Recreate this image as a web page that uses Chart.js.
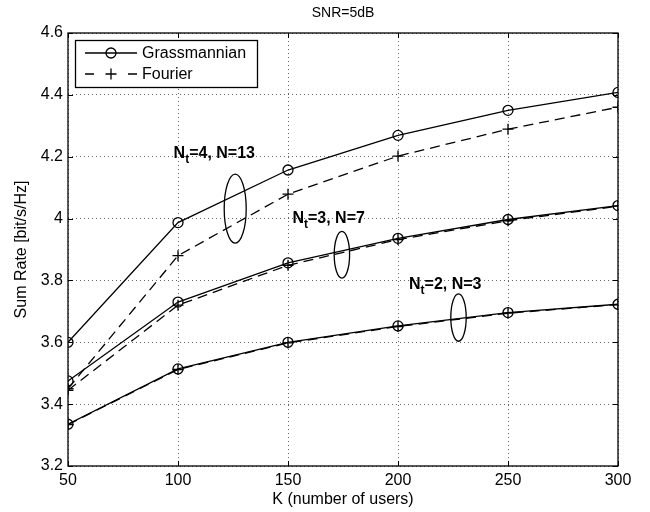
<!DOCTYPE html>
<html>
<head>
<meta charset="utf-8">
<title>SNR=5dB</title>
<script src="https://cdn.jsdelivr.net/npm/chart.js@4"></script>
<style>
  body { margin: 0; background: #fff; }
  canvas { display: block; }
</style>
</head>
<body>
<canvas id="chart" width="650" height="512"></canvas>
<script>
// number of users on the x axis
const kUsers = [50, 100, 150, 200, 250, 300];

// sum rate, one array per curve
const grass4   = [3.600, 3.987, 4.157, 4.269, 4.350, 4.408];
const fourier4 = [3.450, 3.880, 4.079, 4.202, 4.289, 4.360];
const grass3   = [3.475, 3.730, 3.857, 3.936, 3.997, 4.042];
const fourier3 = [3.445, 3.720, 3.849, 3.932, 3.993, 4.040];
const grass2   = [3.335, 3.514, 3.600, 3.653, 3.696, 3.723];
const fourier2 = [3.334, 3.512, 3.598, 3.651, 3.694, 3.722];

// tick values
const xTicks = [50, 100, 150, 200, 250, 300];
const yTicks = [3.2, 3.4, 3.6, 3.8, 4.0, 4.2, 4.4, 4.6];

// group labels (N_t, N)
const groupNt = ['4', '3', '2'];
const groupN = ['13', '7', '3'];

// where the group labels and ellipses go, in data units
const labelAt   = [[98, 4.21], [152, 4.0], [205, 3.785]];
const ellipseAt = [[126, 4.032], [174.5, 3.883], [227.5, 3.68]];
const ellipseR  = [[11, 34.5], [7.7, 23.3], [7.7, 23.7]]; // px

const titleText = 'SNR=5dB';

const FONT = "'Liberation Sans', Arial, Helvetica, sans-serif";
Chart.defaults.font.family = FONT;
Chart.defaults.color = '#000';

function toPts(ys) {
  return ys.map((y, i) => ({x: kUsers[i], y: y}));
}

function grassSet(ys) {
  return {
    label: 'Grassmannian', data: toPts(ys),
    borderColor: '#000', borderWidth: 1.3,
    pointStyle: 'circle', pointRadius: 5, pointBorderWidth: 1.3,
    pointBackgroundColor: 'rgba(0,0,0,0)', pointBorderColor: '#000',
    fill: false, tension: 0
  };
}
function fourierSet(ys) {
  return {
    label: 'Fourier', data: toPts(ys),
    borderColor: '#000', borderWidth: 1.3, borderDash: [10, 6],
    pointStyle: 'cross', pointRadius: 5.5, pointBorderWidth: 1.3,
    pointBackgroundColor: 'rgba(0,0,0,0)', pointBorderColor: '#000',
    fill: false, tension: 0
  };
}

// title, box, inner ticks, legend, ellipses and group labels
const extras = {
  id: 'extras',
  afterDraw(chart) {
    const ctx = chart.ctx;
    const a = chart.chartArea;
    const xs = chart.scales.x, ys = chart.scales.y;
    ctx.save();

    // title centred over the axes
    ctx.fillStyle = '#000';
    ctx.font = '14px ' + FONT;
    ctx.textAlign = 'center';
    ctx.textBaseline = 'middle';
    ctx.fillText(titleText, (a.left + a.right) / 2, 13);

    ctx.strokeStyle = '#000';
    ctx.lineWidth = 1.3;
    ctx.setLineDash([]);
    ctx.strokeRect(a.left, a.top, a.right - a.left, a.bottom - a.top);

    // tick marks pointing inward
    ctx.lineWidth = 1;
    ctx.beginPath();
    for (const t of xTicks) {
      const px = Math.round(xs.getPixelForValue(t)) + 0.5;
      ctx.moveTo(px, a.bottom); ctx.lineTo(px, a.bottom - 5);
      ctx.moveTo(px, a.top); ctx.lineTo(px, a.top + 5);
    }
    for (const t of yTicks) {
      const py = Math.round(ys.getPixelForValue(t)) + 0.5;
      ctx.moveTo(a.left, py); ctx.lineTo(a.left + 5, py);
      ctx.moveTo(a.right, py); ctx.lineTo(a.right - 5, py);
    }
    ctx.stroke();

    // ellipses
    ctx.lineWidth = 1.3;
    ellipseAt.forEach((c, i) => {
      ctx.beginPath();
      ctx.ellipse(xs.getPixelForValue(c[0]), ys.getPixelForValue(c[1]),
        ellipseR[i][0], ellipseR[i][1], 0, 0, Math.PI * 2);
      ctx.stroke();
    });

    // group labels with subscript t
    ctx.textAlign = 'left';
    labelAt.forEach((p, i) => {
      let x = xs.getPixelForValue(p[0]);
      const y = ys.getPixelForValue(p[1]);
      ctx.font = 'bold 16px ' + FONT;
      ctx.fillText('N', x, y);
      x += ctx.measureText('N').width;
      ctx.font = 'bold 12px ' + FONT;
      ctx.fillText('t', x, y + 6);
      x += ctx.measureText('t').width;
      ctx.font = 'bold 16px ' + FONT;
      ctx.fillText('=' + groupNt[i] + ', N=' + groupN[i], x, y);
    });

    // legend box
    const lx = 75, ly = 40, lw = 182, lh = 47;
    ctx.fillStyle = '#fff';
    ctx.fillRect(lx, ly, lw, lh);
    ctx.strokeStyle = '#000';
    ctx.lineWidth = 1.3;
    ctx.strokeRect(lx + 0.5, ly + 0.5, lw, lh);

    const r1 = 53, r2 = 74;
    ctx.beginPath();
    ctx.moveTo(85, r1); ctx.lineTo(137, r1);
    ctx.stroke();
    ctx.beginPath();
    ctx.arc(111, r1, 5, 0, Math.PI * 2);
    ctx.stroke();

    ctx.beginPath();
    ctx.moveTo(85, r2); ctx.lineTo(94, r2);
    ctx.moveTo(128, r2); ctx.lineTo(137, r2);
    ctx.moveTo(105.5, r2); ctx.lineTo(116.5, r2);
    ctx.moveTo(111, r2 - 5.5); ctx.lineTo(111, r2 + 5.5);
    ctx.stroke();

    ctx.fillStyle = '#000';
    ctx.font = '16px ' + FONT;
    ctx.textBaseline = 'middle';
    ctx.fillText('Grassmannian', 142, r1 + 1);
    ctx.fillText('Fourier', 142, r2 + 1);
    ctx.restore();
  }
};

new Chart(document.getElementById('chart'), {
  type: 'line',
  data: {
    datasets: [
      grassSet(grass4), fourierSet(fourier4),
      grassSet(grass3), fourierSet(fourier3),
      grassSet(grass2), fourierSet(fourier2)
    ]
  },
  options: {
    responsive: false,
    animation: false,
    devicePixelRatio: 1,
    layout: { padding: { left: 0, right: 32, top: 33, bottom: 0 } },
    plugins: {
      legend: { display: false },
      tooltip: { enabled: false },
      title: { display: false }
    },
    scales: {
      x: {
        type: 'linear',
        min: 50, max: 300,
        afterBuildTicks: s => { s.ticks = xTicks.map(v => ({value: v})); },
        afterFit: s => { s.height = 46; },
        ticks: { font: { size: 16 }, padding: 5, color: '#000', maxRotation: 0 },
        grid: { color: 'rgba(0,0,0,0.6)', lineWidth: 1, drawTicks: false },
        border: { display: false, dash: [1, 3] },
        title: {
          display: true, text: 'K (number of users)',
          font: { size: 16 }, color: '#000',
          padding: { top: 0, bottom: 3 }
        }
      },
      y: {
        min: 3.2, max: 4.6,
        afterBuildTicks: s => { s.ticks = yTicks.map(v => ({value: v})); },
        afterFit: s => { s.width = 68; },
        ticks: {
          font: { size: 16 }, padding: 5, color: '#000',
          callback: v => String(+v.toFixed(1))
        },
        grid: { color: 'rgba(0,0,0,0.6)', lineWidth: 1, drawTicks: false },
        border: { display: false, dash: [1, 3] },
        title: {
          display: true, text: 'Sum Rate [bit/s/Hz]',
          font: { size: 16 }, color: '#000',
          padding: { top: 12, bottom: 0 }
        }
      }
    }
  },
  plugins: [extras]
});
</script>
</body>
</html>
